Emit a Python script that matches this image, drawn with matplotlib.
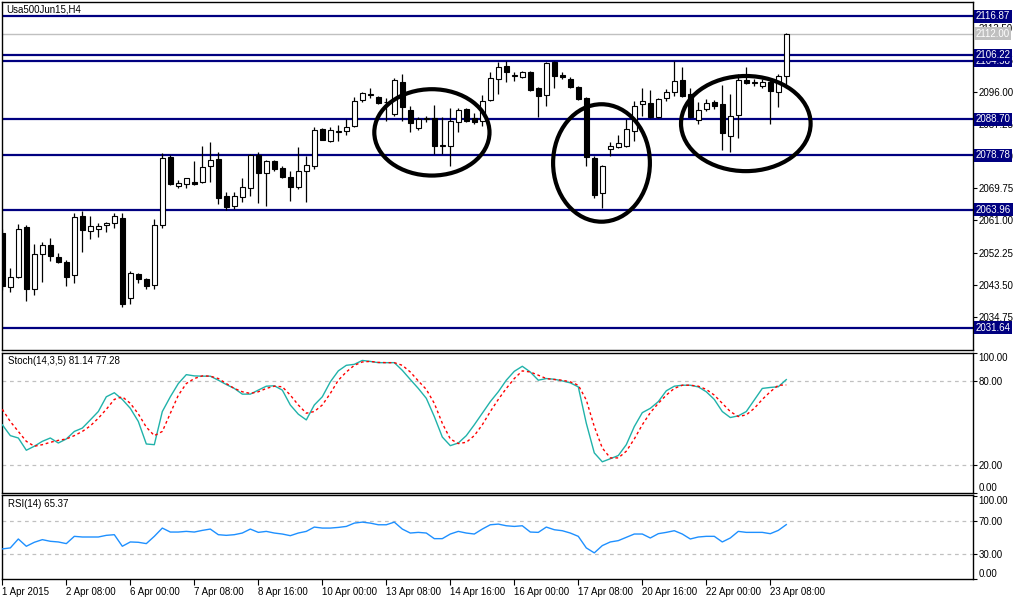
import matplotlib
matplotlib.use('Agg')
import matplotlib.pyplot as plt
from matplotlib.patches import Ellipse
import matplotlib.transforms as mtransforms
import numpy as np

plt.rcParams['font.family'] = ['Liberation Sans', 'DejaVu Sans']

title = "Usa500Jun15,H4"

opens = [2057.68, 2042.88, 2045.62, 2059.32, 2042.33, 2051.92, 2054.39, 2051.10, 2049.73, 2046.17,
         2062.34, 2058.22, 2058.77, 2059.87, 2060.42, 2061.79, 2039.86, 2046.44, 2045.07, 2043.43,
         2059.87, 2078.23, 2070.56, 2071.10, 2071.65, 2071.65, 2075.76, 2077.68, 2067.82, 2065.08,
         2067.54, 2070.01, 2078.78, 2073.85, 2077.13, 2075.22, 2073.02, 2070.28, 2074.39, 2075.76,
         2085.90, 2082.61, 2085.08, 2085.36, 2086.73, 2093.85, 2095.36, 2094.67, 2093.30, 2090.01,
         2098.78, 2091.11, 2086.18, 2088.78, 2088.92, 2081.38, 2081.24, 2087.82, 2091.38, 2088.92,
         2088.10, 2093.85, 2099.61, 2103.17, 2100.57, 2100.15, 2101.52, 2097.14, 2095.22, 2104.26,
         2100.70, 2099.61, 2097.41, 2094.40, 2077.96, 2068.64, 2080.42, 2080.97, 2081.24, 2085.36,
         2092.75, 2093.03, 2089.19, 2094.40, 2096.04, 2099.33, 2095.50, 2088.37, 2091.38, 2093.30,
         2092.75, 2083.99, 2089.74, 2099.33, 2098.65, 2097.69, 2098.78, 2096.04, 2100.43]
highs = [2058.77, 2048.08, 2060.14, 2059.87, 2054.66, 2055.21, 2056.31, 2052.20, 2050.28, 2063.16,
         2063.71, 2062.34, 2060.42, 2060.69, 2063.16, 2063.16, 2047.26, 2046.71, 2045.34, 2061.51,
         2079.33, 2078.78, 2072.20, 2072.48, 2077.13, 2081.24, 2082.34, 2079.60, 2068.91, 2068.91,
         2072.75, 2079.05, 2079.60, 2077.41, 2077.41, 2075.76, 2074.39, 2080.97, 2078.50, 2086.45,
         2086.18, 2086.45, 2087.00, 2088.64, 2094.67, 2096.04, 2097.14, 2094.95, 2094.40, 2099.88,
         2100.98, 2092.21, 2089.19, 2089.47, 2092.48, 2089.19, 2091.66, 2091.66, 2091.66, 2090.29,
         2095.22, 2101.52, 2104.26, 2104.54, 2101.52, 2101.80, 2101.80, 2097.41, 2104.26, 2104.54,
         2101.52, 2100.15, 2097.69, 2094.67, 2078.50, 2076.04, 2082.34, 2084.26, 2088.64, 2093.58,
         2097.14, 2096.59, 2094.40, 2096.87, 2104.54, 2102.89, 2097.14, 2093.30, 2094.12, 2093.85,
         2097.96, 2095.50, 2100.98, 2102.89, 2099.61, 2099.61, 2099.33, 2100.98, 2112.21]
lows = [2042.06, 2041.51, 2045.34, 2039.04, 2040.69, 2044.25, 2050.00, 2049.45, 2043.15, 2043.97,
        2052.47, 2056.03, 2056.58, 2057.95, 2059.05, 2037.40, 2038.22, 2043.97, 2042.33, 2042.33,
        2059.05, 2070.83, 2070.01, 2070.01, 2070.83, 2071.38, 2071.65, 2065.62, 2063.98, 2064.25,
        2066.17, 2067.82, 2065.90, 2065.08, 2074.39, 2072.75, 2066.45, 2069.73, 2066.17, 2074.94,
        2082.89, 2082.34, 2082.61, 2084.26, 2086.45, 2093.30, 2094.40, 2092.75, 2088.10, 2089.47,
        2088.10, 2085.08, 2085.63, 2087.82, 2079.05, 2079.05, 2075.76, 2085.08, 2087.82, 2087.27,
        2086.73, 2093.58, 2095.50, 2098.78, 2099.06, 2099.88, 2096.32, 2089.19, 2092.21, 2097.14,
        2099.61, 2097.14, 2093.85, 2075.76, 2067.27, 2064.53, 2078.50, 2080.70, 2080.97, 2082.61,
        2089.47, 2088.92, 2088.92, 2093.58, 2094.95, 2094.67, 2088.92, 2087.27, 2090.84, 2091.38,
        2080.15, 2079.60, 2083.44, 2098.24, 2097.69, 2097.14, 2087.27, 2091.93, 2097.69]
closes = [2043.15, 2045.62, 2058.77, 2042.33, 2051.92, 2054.39, 2051.37, 2049.73, 2045.62, 2062.06,
          2058.50, 2059.59, 2059.59, 2060.42, 2062.34, 2038.22, 2046.71, 2045.07, 2043.15, 2059.87,
          2077.96, 2071.10, 2071.38, 2072.48, 2071.10, 2075.49, 2077.41, 2067.27, 2064.80, 2067.82,
          2070.28, 2078.78, 2073.85, 2077.13, 2074.94, 2073.02, 2070.28, 2074.39, 2076.04, 2085.63,
          2082.89, 2085.63, 2085.36, 2086.45, 2093.58, 2095.77, 2095.50, 2093.03, 2093.44, 2099.33,
          2091.93, 2087.55, 2088.64, 2088.92, 2081.24, 2081.52, 2088.10, 2091.11, 2088.10, 2087.82,
          2093.58, 2099.88, 2102.89, 2101.52, 2100.70, 2101.52, 2096.59, 2094.95, 2103.99, 2100.43,
          2100.15, 2097.41, 2094.12, 2078.23, 2068.09, 2075.76, 2081.24, 2082.07, 2085.90, 2092.21,
          2093.58, 2089.19, 2094.12, 2096.04, 2099.06, 2094.95, 2089.19, 2091.11, 2093.03, 2092.21,
          2084.81, 2089.47, 2099.33, 2098.51, 2098.78, 2098.78, 2096.32, 2100.43, 2111.94]

stoch_main = [48.7, 40.9, 39.2, 30.4, 33.3, 36.8, 39.2, 35.6, 38.5, 43.9,
              46.3, 52.2, 58.2, 68.8, 71.7, 66.9, 60.5, 51.1, 34.9, 34.4,
              58.2, 68.8, 78.3, 84.7, 83.8, 83.6, 83.6, 80.7, 77.6, 74.8,
              70.7, 70.7, 73.6, 76.4, 76.7, 73.6, 62.9, 56.3, 52.2, 62.9,
              68.8, 79.5, 87.4, 91.4, 92.1, 94.9, 94.2, 93.3, 93.3, 93.3,
              87.8, 81.2, 74.8, 67.7, 54.6, 39.9, 33.7, 35.6, 40.9, 48.7,
              57.0, 65.3, 72.4, 80.7, 87.1, 90.7, 86.6, 80.7, 81.9, 81.4,
              80.2, 78.8, 75.9, 49.8, 28.5, 22.1, 24.3, 26.6, 34.4, 47.4,
              57.4, 60.5, 65.3, 73.1, 76.4, 77.1, 77.1, 75.9, 72.4, 66.9,
              58.2, 53.9, 55.1, 58.2, 66.5, 74.8, 75.5, 76.0, 81.14]
stoch_signal = [59.8, 51.0, 43.9, 36.8, 33.3, 34.4, 36.1, 37.5, 38.5, 40.9,
                43.9, 47.9, 53.4, 59.8, 66.9, 68.8, 64.1, 56.5, 47.0, 40.9,
                43.9, 56.9, 69.9, 78.3, 81.9, 83.8, 83.6, 81.9, 78.3, 74.8,
                72.4, 71.2, 72.4, 74.8, 76.4, 76.0, 70.0, 62.9, 57.0, 58.2,
                62.9, 71.2, 80.7, 86.6, 91.4, 93.8, 94.2, 93.5, 93.3, 93.3,
                91.4, 86.6, 80.2, 74.1, 64.1, 49.8, 38.5, 35.2, 36.1, 40.9,
                48.7, 58.2, 66.9, 74.8, 81.9, 87.4, 86.6, 84.3, 81.9, 81.2,
                80.7, 79.5, 77.1, 66.5, 47.4, 32.0, 24.9, 24.9, 29.7, 38.5,
                48.7, 57.4, 64.1, 70.0, 74.8, 77.1, 77.1, 76.4, 74.1, 70.0,
                64.1, 58.2, 54.6, 55.8, 60.5, 66.9, 72.4, 77.1, 77.28]
rsi = [36.0, 37.2, 48.0, 39.2, 44.0, 47.2, 45.2, 44.4, 42.4, 51.2,
       50.4, 50.4, 50.4, 52.4, 53.2, 39.2, 44.4, 44.0, 42.4, 51.2,
       61.2, 56.4, 56.4, 57.2, 56.4, 58.4, 60.0, 53.2, 52.4, 53.2,
       55.2, 60.0, 56.0, 57.2, 55.2, 54.0, 52.0, 55.2, 57.2, 62.4,
       61.2, 61.2, 62.0, 63.2, 67.2, 68.4, 67.2, 65.2, 65.2, 68.4,
       60.0, 55.2, 56.0, 55.2, 48.4, 48.4, 54.0, 57.2, 55.2, 54.0,
       60.0, 65.2, 66.0, 64.0, 63.2, 64.0, 56.4, 56.0, 62.4, 59.2,
       58.0, 55.2, 51.2, 37.2, 31.2, 40.0, 44.4, 46.0, 50.0, 54.0,
       54.0, 49.2, 54.4, 56.0, 58.0, 54.0, 48.0, 50.4, 51.2, 51.2,
       44.4, 49.2, 57.2, 56.0, 56.0, 56.0, 54.4, 58.4, 65.37]

levels = [2116.87, 2106.22, 2104.58, 2088.70, 2078.78, 2063.96, 2031.64]
bid = 2112.00
price_ticks = [2034.75, 2043.50, 2052.25, 2061.00, 2069.75, 2078.50, 2087.25, 2096.00, 2104.75, 2113.50]
time_labels = ["1 Apr 2015", "2 Apr 08:00", "6 Apr 00:00", "7 Apr 08:00", "8 Apr 16:00",
               "10 Apr 00:00", "13 Apr 08:00", "14 Apr 16:00", "16 Apr 00:00", "17 Apr 08:00",
               "20 Apr 16:00", "22 Apr 00:00", "23 Apr 08:00"]
time_label_pos = [0, 8, 16, 24, 32, 40, 48, 56, 64, 72, 80, 88, 96]

NAVY = '#000080'
W, H = 1024, 600
fig = plt.figure(figsize=(W / 100, H / 100), dpi=100)
fig.patch.set_facecolor('white')


def rect(l, t, r, b):
    return [l / W, 1 - b / H, (r - l) / W, (b - t) / H]


ax1 = fig.add_axes(rect(2, 2, 973, 350))
ax2 = fig.add_axes(rect(2, 352.5, 973, 493))
ax3 = fig.add_axes(rect(2, 495, 973, 579))

XL = (-0.04, 121.34)
FS = 7
for ax in (ax1, ax2, ax3):
    ax.set_xlim(*XL)
    for s in ax.spines.values():
        s.set_color('black')
        s.set_linewidth(1.0)
    ax.yaxis.tick_right()
    ax.tick_params(axis='y', direction='out', length=3, width=0.8, labelsize=FS, pad=1,
                   left=False, right=True, labelleft=False, labelright=True, colors='black')
    ax.tick_params(axis='x', bottom=False, labelbottom=False)

# ---------- main price panel ----------
n = len(opens)
x = np.arange(n)
ax1.set_ylim(2025.61, 2120.71)
ax1.set_yticks(price_ticks)
ax1.set_yticklabels([f"{v:.2f}" for v in price_ticks])

ax1.vlines(x, lows, highs, color='black', lw=0.9, zorder=3)
bottoms = [min(o, c) for o, c in zip(opens, closes)]
heights = [max(abs(c - o), 0.06) for o, c in zip(opens, closes)]
colors = ['white' if c >= o else 'black' for o, c in zip(opens, closes)]
ax1.bar(x, heights, bottom=bottoms, width=0.62, color=colors, edgecolor='black',
        linewidth=0.8, zorder=4)

trans = mtransforms.blended_transform_factory(ax1.transAxes, ax1.transData)
ax1.axhline(bid, color='#c0c0c0', lw=1.0, zorder=2)
ax1.text(1.003, bid, f"{bid:.2f}", transform=trans, color='white', fontsize=FS,
         ha='left', va='center', zorder=6, clip_on=False,
         bbox=dict(boxstyle='square,pad=0.15', fc='#c0c0c0', ec='none'))
for lv in levels:
    ax1.axhline(lv, color=NAVY, lw=1.6, zorder=2)
for lv in sorted(levels):
    ax1.text(1.003, lv, f"{lv:.2f}", transform=trans, color='white', fontsize=FS,
             ha='left', va='center', zorder=7, clip_on=False,
             bbox=dict(boxstyle='square,pad=0.15', fc=NAVY, ec='none'))

for (cx, cy, ew, eh) in [(53.7, 2085.08, 14.4, 23.6), (74.9, 2076.72, 12.1, 32.1),
                         (92.94, 2087.49, 16.2, 26.0)]:
    ax1.add_patch(Ellipse((cx, cy), ew, eh, fill=False, ec='black', lw=3.0, zorder=8))

fig.text(6 / W, 1 - 10 / H, title, fontsize=7, ha='left', va='center', color='black')

# ---------- stochastic ----------
ax2.set_ylim(-0.3, 100.6)
ax2.set_yticks([0, 20, 80, 100])
ax2.set_yticklabels(["0.00", "20.00", "80.00", "100.00"])
for lvl in (20, 80):
    ax2.axhline(lvl, color='#c0c0c0', lw=0.9, ls=(0, (3, 3)), zorder=1)
ax2.plot(x, stoch_main, color='#20b2aa', lw=1.0, zorder=3)
ax2.plot(x, stoch_signal, color='red', lw=1.0, ls=(0, (2, 2)), zorder=4)
ax2.text(6 / 971, 1 - 9 / 140.5, "Stoch(14,3,5) 81.14 77.28", transform=ax2.transAxes,
         fontsize=7, ha='left', va='center')

# ---------- RSI ----------
ax3.set_ylim(-0.4, 101.2)
ax3.set_yticks([0, 30, 70, 100])
ax3.set_yticklabels(["0.00", "30.00", "70.00", "100.00"])
for lvl in (30, 70):
    ax3.axhline(lvl, color='#c0c0c0', lw=0.9, ls=(0, (3, 3)), zorder=1)
ax3.plot(x, rsi, color='#1e90ff', lw=1.0, zorder=3)
ax3.text(6 / 971, 1 - 9 / 84, "RSI(14) 65.37", transform=ax3.transAxes,
         fontsize=7, ha='left', va='center')

for ax in (ax2, ax3):
    ticks = ax.yaxis.get_major_ticks()
    ticks[0].label2.set_va('bottom')
    ticks[-1].label2.set_va('top')

ax3.tick_params(axis='x', bottom=True, labelbottom=True, direction='out', length=4,
                width=0.8, labelsize=FS, pad=2)
ax3.set_xticks(time_label_pos)
ax3.set_xticklabels(time_labels)
for lbl in ax3.get_xticklabels():
    lbl.set_ha('left')

fig.savefig('out.png', dpi=100, facecolor='white')
